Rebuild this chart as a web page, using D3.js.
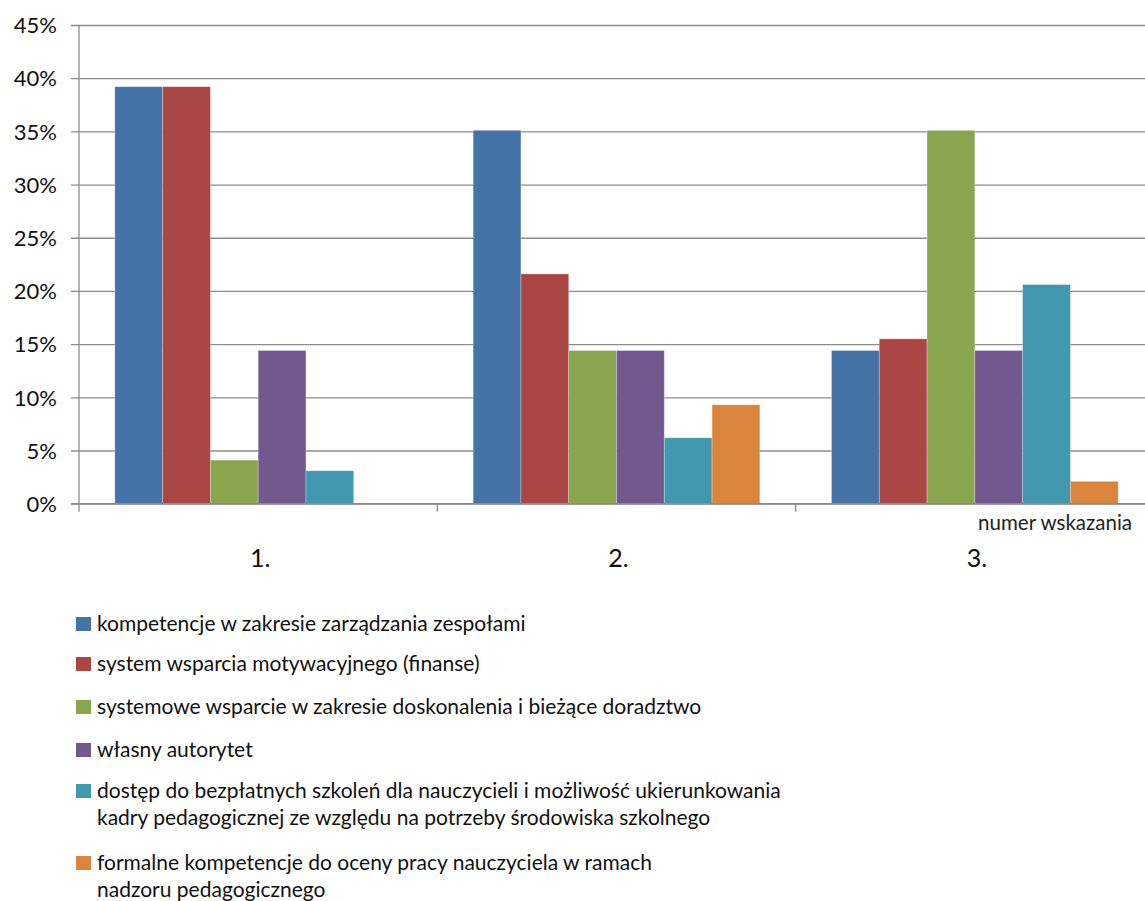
<!DOCTYPE html>
<html>
<head>
<meta charset="utf-8">
<script src="https://cdn.jsdelivr.net/npm/d3@7"></script>
<style>
  html, body { margin: 0; padding: 0; background: #fff; }
  svg { display: block; font-family: Lato, "Open Sans", sans-serif; }
</style>
</head>
<body>
<svg id="chart" width="1145" height="901"></svg>
<script>
// Categories (numer wskazania) and one value array per answer option, in percent
const categories = ["1.", "2.", "3."];
const seriesNames = [
  "kompetencje w zakresie zarządzania zespołami",
  "system wsparcia motywacyjnego (finanse)",
  "systemowe wsparcie w zakresie doskonalenia i bieżące doradztwo",
  "własny autorytet",
  "dostęp do bezpłatnych szkoleń dla nauczycieli i możliwość ukierunkowania|kadry pedagogicznej ze względu na potrzeby środowiska szkolnego",
  "formalne kompetencje do oceny pracy nauczyciela w ramach|nadzoru pedagogicznego"
];
const kompetencje = [39.2, 35.1, 14.4];
const motywacja   = [39.2, 21.6, 15.5];
const doskonalenie = [4.1, 14.4, 35.1];
const autorytet   = [14.4, 14.4, 14.4];
const szkolenia   = [3.1, 6.2, 20.6];
const ocena       = [0, 9.3, 2.1];
const colors = ["#4572A7", "#AA4643", "#89A54E", "#71588F", "#4198AF", "#DB843D"];
const yTicks = [0, 5, 10, 15, 20, 25, 30, 35, 40, 45];
const xAxisTitle = "numer wskazania";

const seriesValues = [kompetencje, motywacja, doskonalenie, autorytet, szkolenia, ocena];

const svg = d3.select("#chart");
const plotLeft = 79, plotRight = 1154, plotTop = 25, plotBottom = 503.7;

const y = d3.scaleLinear().domain([0, 45]).range([plotBottom, plotTop]);
const x0 = d3.scaleBand().domain(categories).range([plotLeft, plotRight])
  .paddingInner(0.2).paddingOuter(0.1);
const x1 = d3.scaleBand().domain(d3.range(seriesNames.length))
  .range([0, x0.bandwidth()]).padding(0);

const gridColor = "#8c8c8c";

// Horizontal gridlines plus left tick marks
const yAxis = d3.axisLeft(y).tickValues(yTicks).tickSize(-(plotRight - plotLeft)).tickFormat(d => d + "%");
const gy = svg.append("g").attr("transform", `translate(${plotLeft},0)`).call(yAxis);
gy.select(".domain").remove();
gy.selectAll(".tick line").attr("stroke", gridColor).attr("stroke-width", 1.3)
  .attr("x1", -8);
gy.selectAll(".tick text").attr("x", -22).attr("dy", "0.35em")
  .attr("fill", "#111").style("font-size", "22px").style("font-family", "Lato, sans-serif");

// Bars
const groups = svg.append("g").selectAll("g")
  .data(categories).join("g")
  .attr("transform", d => `translate(${x0(d)},0)`);
groups.selectAll("rect")
  .data((c, ci) => seriesValues.map((vals, si) => ({ si, v: vals[ci] })).filter(d => d.v > 0))
  .join("rect")
  .attr("x", d => x1(d.si))
  .attr("y", d => y(d.v))
  .attr("width", x1.bandwidth())
  .attr("height", d => y(0) - y(d.v))
  .attr("fill", d => colors[d.si])
  .attr("stroke", "rgba(255,255,255,0.35)")
  .attr("stroke-width", 0.8);

// Vertical axis line and category axis
svg.append("line").attr("x1", plotLeft).attr("x2", plotLeft).attr("y1", plotTop).attr("y2", plotBottom + 8)
  .attr("stroke", gridColor).attr("stroke-width", 1.3);
svg.append("line").attr("x1", plotLeft - 8).attr("x2", plotRight).attr("y1", plotBottom).attr("y2", plotBottom)
  .attr("stroke", gridColor).attr("stroke-width", 1.5);
const boundaries = categories.map(c => x0(c) - x0.step() * x0.paddingInner() / 2);
svg.append("g").selectAll("line").data(boundaries.slice(1)).join("line")
  .attr("x1", d => d).attr("x2", d => d).attr("y1", plotBottom).attr("y2", plotBottom + 8)
  .attr("stroke", gridColor).attr("stroke-width", 1.3);

svg.append("g").selectAll("text").data(categories).join("text")
  .attr("x", d => x0(d) + x0.bandwidth() / 2 + 2)
  .attr("y", 567)
  .attr("text-anchor", "middle")
  .attr("fill", "#111")
  .style("font-size", "25px")
  .text(d => d);

svg.append("text").attr("x", 1132).attr("y", 530).attr("text-anchor", "end")
  .attr("fill", "#222").style("font-size", "20.5px").text(xAxisTitle);

// Legend
const legendRows = [631, 671, 714, 757, 798, 870];
const legend = svg.append("g");
seriesNames.forEach((name, i) => {
  const yb = legendRows[i];
  legend.append("rect").attr("x", 76).attr("y", yb - 14).attr("width", 15).attr("height", 14)
    .attr("fill", colors[i]);
  const t = legend.append("text").attr("x", 97).attr("y", yb).attr("fill", "#111")
    .style("font-size", "21px");
  name.split("|").forEach((line, li) => {
    t.append("tspan").attr("x", 97).attr("dy", li === 0 ? 0 : 27).text(line);
  });
});
</script>
</body>
</html>
